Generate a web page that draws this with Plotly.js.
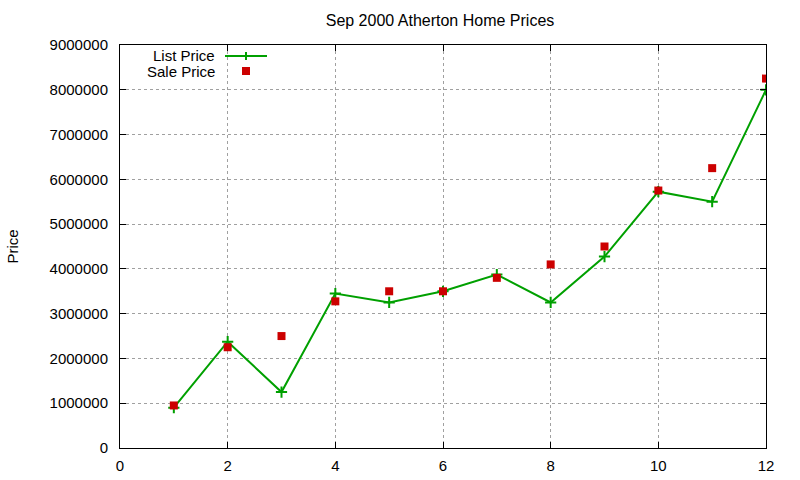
<!DOCTYPE html>
<html>
<head>
<meta charset="utf-8">
<script src="https://cdn.plot.ly/plotly-3.0.1.min.js"></script>
<style>
  html, body { margin: 0; padding: 0; background: #ffffff; }
  #chart { width: 800px; height: 480px; }
</style>
</head>
<body>
<div id="chart"></div>
<script>
// house number along the x axis
const houses = [1, 2, 3, 4, 5, 6, 7, 8, 9, 10, 11, 12];
const listPrice = [900000, 2375000, 1250000, 3450000, 3250000, 3500000, 3875000, 3250000, 4275000, 5725000, 5500000, 8000000];
const salePrice = [950000, 2250000, 2500000, 3275000, 3500000, 3500000, 3800000, 4100000, 4500000, 5750000, 6250000, 8250000];
const xTicks = [0, 2, 4, 6, 8, 10, 12];
const yTicks = [0, 1000000, 2000000, 3000000, 4000000, 5000000, 6000000, 7000000, 8000000, 9000000];

const green = '#00a000';
const red = '#cc0000';
const font = 'Liberation Sans, Arial, sans-serif';

const plotW = 646, plotH = 403;
// legend placed like gnuplot's: label, then sample to its right
const px = v => v / plotW;
const py = v => 1 - v / plotH;

const layout = {
    width: 800,
    height: 480,
    margin: { t: 45, r: 34, b: 32, l: 120 },
    showlegend: false,
    plot_bgcolor: '#ffffff',
    paper_bgcolor: '#ffffff',
    font: { family: font, size: 15, color: '#000000' },
    title: {
        text: 'Sep 2000 Atherton Home Prices',
        font: { family: font, size: 16, color: '#000000' },
        x: 440 / 800, xanchor: 'center',
        y: 1 - 20 / 480, yanchor: 'middle'
    },
    xaxis: {
        range: [0, 12],
        tickvals: xTicks,
        ticks: 'inside', ticklen: 6, tickcolor: '#000000',
        showline: true, linecolor: '#000000', linewidth: 1, mirror: 'ticks',
        showgrid: true, gridcolor: '#a0a0a0', griddash: 'dot', gridwidth: 1,
        zeroline: false,
        ticklabelstandoff: 4
    },
    yaxis: {
        range: [0, 9000000],
        tickvals: yTicks,
        tickformat: 'd',
        ticks: 'inside', ticklen: 6, tickcolor: '#000000',
        showline: true, linecolor: '#000000', linewidth: 1, mirror: 'ticks',
        showgrid: true, gridcolor: '#a0a0a0', griddash: 'dot', gridwidth: 1,
        zeroline: false,
        ticklabelstandoff: 8
    },
    annotations: [
        {
            text: 'Price', xref: 'paper', yref: 'paper',
            x: px(-108), y: 0.5, textangle: -90,
            showarrow: false, xanchor: 'center', yanchor: 'middle',
            font: { family: font, size: 15 }
        },
        {
            text: 'List Price', xref: 'paper', yref: 'paper',
            x: px(97), y: py(10), xanchor: 'right', yanchor: 'middle',
            showarrow: false, font: { family: font, size: 15 }
        },
        {
            text: 'Sale Price', xref: 'paper', yref: 'paper',
            x: px(97), y: py(27), xanchor: 'right', yanchor: 'middle',
            showarrow: false, font: { family: font, size: 15 }
        }
    ],
    shapes: [
        {
            type: 'line', xref: 'paper', yref: 'paper',
            x0: px(105), x1: px(147), y0: py(11), y1: py(11),
            line: { color: green, width: 2 }
        },
        {
            type: 'line', xref: 'paper', yref: 'paper',
            x0: px(126), x1: px(126), y0: py(7), y1: py(15),
            line: { color: green, width: 2 }
        },
        {
            type: 'rect', xref: 'paper', yref: 'paper',
            x0: px(122), x1: px(130), y0: py(22), y1: py(30),
            fillcolor: red, line: { width: 0 }
        }
    ]
};

Plotly.newPlot('chart', [
    {
        x: houses, y: listPrice,
        name: 'List Price',
        type: 'scatter', mode: 'lines+markers',
        line: { color: green, width: 2 },
        marker: { symbol: 'cross-thin', size: 8, color: green, line: { color: green, width: 2 } }
    },
    {
        x: houses, y: salePrice,
        name: 'Sale Price',
        type: 'scatter', mode: 'markers',
        marker: { symbol: 'square', size: 8, color: red }
    }
], layout, { displayModeBar: false, staticPlot: true });
</script>
</body>
</html>
